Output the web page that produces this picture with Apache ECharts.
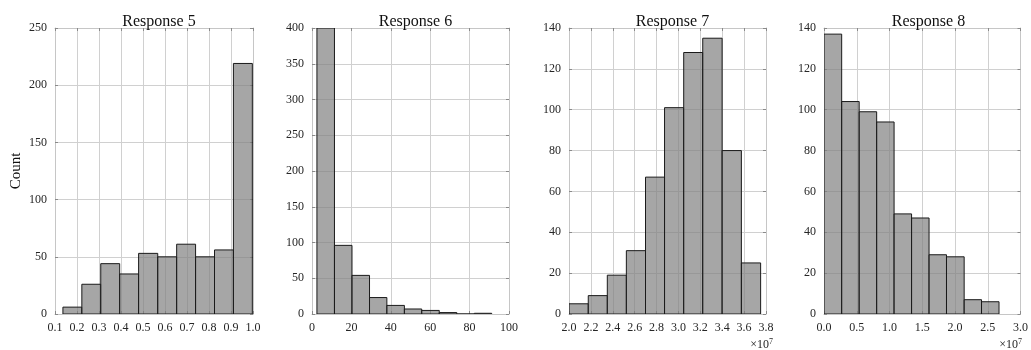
<!DOCTYPE html>
<html>
<head>
<meta charset="utf-8">
<script src="https://cdn.jsdelivr.net/npm/echarts@6/dist/echarts.min.js"></script>
<style>
html,body{margin:0;padding:0;background:#fff;}
#chart{width:1031px;height:350px;}
</style>
</head>
<body>
<div id="chart"></div>
<script>
// ---- data ----
const titles = ['Response 5', 'Response 6', 'Response 7', 'Response 8'];

const r5Edges  = [0.136, 0.222, 0.308, 0.394, 0.480, 0.567, 0.653, 0.739, 0.825, 0.911, 0.997];
const r5Counts = [6, 26, 44, 35, 53, 50, 61, 50, 56, 219];

const r6Edges  = [2.5, 11.4, 20.3, 29.2, 38.0, 46.9, 55.7, 64.6, 73.5, 82.4, 91.2];
const r6Counts = [400, 96, 54, 23, 12, 7, 5, 2, 0, 1];

// x values in units of 1e7
const r7Edges  = [2.0, 2.176, 2.350, 2.524, 2.699, 2.873, 3.048, 3.222, 3.399, 3.575, 3.751];
const r7Counts = [5, 9, 19, 31, 67, 101, 128, 135, 80, 25];

const r8Edges  = [0.0, 0.270, 0.537, 0.804, 1.070, 1.337, 1.604, 1.870, 2.140, 2.405, 2.672];
const r8Counts = [137, 104, 99, 94, 49, 47, 29, 28, 7, 6];

const xMin  = [0.1, 0, 2.0, 0];
const xMax  = [1.0, 100, 3.8, 3.0];
const xStep = [0.1, 20, 0.2, 0.5];
const yMax  = [250, 400, 140, 140];
const yStep = [50, 50, 20, 20];
const xDecimals = [1, 0, 1, 1];
const xScaleNote = [null, null, '7', '7'];
const yLabel = 'Count';

const allEdges  = [r5Edges, r6Edges, r7Edges, r8Edges];
const allCounts = [r5Counts, r6Counts, r7Counts, r8Counts];

// ---- layout ----
const gridLeft  = [55, 312, 569, 824];
const gridWidth = [198, 197, 197, 199];
const gridTop = 28, gridHeight = 286;
const noteRight = [0, 0, 258, 9];

const FONT = '"Liberation Serif", "DejaVu Serif", serif';
const TEXT = '#262626';
const GRIDC = '#d0d0d0';
const AXC = '#c6c6c6';
const TICKC = '#8a8a8a';

const grids = [], xAxes = [], yAxes = [], series = [], titleOpts = [], graphics = [];

for (let i = 0; i < 4; i++) {
  grids.push({left: gridLeft[i], top: gridTop, width: gridWidth[i], height: gridHeight, containLabel: false});
  titleOpts.push({
    text: titles[i],
    left: gridLeft[i] + gridWidth[i] / 2,
    top: 9,
    textAlign: 'center',
    textStyle: {fontFamily: FONT, fontSize: 16, fontWeight: 'normal', color: '#111'}
  });
  const dec = xDecimals[i];
  xAxes.push({
    type: 'value', gridIndex: i, position: 'bottom',
    min: xMin[i], max: xMax[i], interval: xStep[i],
    axisLine: {show: true, onZero: false, lineStyle: {color: AXC, width: 1}},
    axisTick: {show: true, inside: true, length: 3, lineStyle: {color: TICKC}},
    axisLabel: {show: true, margin: 8, fontFamily: FONT, fontSize: 12, color: TEXT,
      formatter: v => Number(v).toFixed(dec)},
    splitLine: {show: true, lineStyle: {color: GRIDC, width: 1}}
  });
  xAxes.push({
    type: 'value', gridIndex: i, position: 'top',
    min: xMin[i], max: xMax[i], interval: xStep[i],
    axisLine: {show: true, onZero: false, lineStyle: {color: AXC, width: 1}},
    axisTick: {show: true, inside: true, length: 3, lineStyle: {color: TICKC}},
    axisLabel: {show: false}, splitLine: {show: false}
  });
  yAxes.push({
    type: 'value', gridIndex: i, position: 'left',
    min: 0, max: yMax[i], interval: yStep[i],
    name: i === 0 ? yLabel : '',
    nameLocation: 'middle', nameGap: 31, nameRotate: 90,
    nameTextStyle: {fontFamily: FONT, fontSize: 15, color: '#111'},
    axisLine: {show: true, onZero: false, lineStyle: {color: AXC, width: 1}},
    axisTick: {show: true, inside: true, length: 3, lineStyle: {color: TICKC}},
    axisLabel: {show: true, margin: 8, fontFamily: FONT, fontSize: 12, color: TEXT},
    splitLine: {show: true, lineStyle: {color: GRIDC, width: 1}}
  });
  yAxes.push({
    type: 'value', gridIndex: i, position: 'right',
    min: 0, max: yMax[i], interval: yStep[i],
    axisLine: {show: true, onZero: false, lineStyle: {color: AXC, width: 1}},
    axisTick: {show: true, inside: true, length: 3, lineStyle: {color: TICKC}},
    axisLabel: {show: false}, splitLine: {show: false}
  });

  const edges = allEdges[i], counts = allCounts[i];
  const data = counts.map((c, k) => [edges[k], edges[k + 1], c]);
  series.push({
    type: 'custom',
    xAxisIndex: 2 * i, yAxisIndex: 2 * i,
    clip: true,
    data: data,
    encode: {x: [0, 1], y: 2},
    renderItem: function (params, api) {
      const p0 = api.coord([api.value(0), api.value(2)]);
      const p1 = api.coord([api.value(1), 0]);
      return {
        type: 'rect',
        shape: {x: p0[0], y: p0[1], width: p1[0] - p0[0], height: p1[1] - p0[1]},
        style: {fill: 'rgba(128,128,128,0.7)', stroke: '#1a1a1a', lineWidth: 1}
      };
    },
    silent: true, animation: false
  });

  if (xScaleNote[i]) {
    graphics.push({
      type: 'text',
      right: noteRight[i],
      top: 338,
      style: {
        text: '×10{sup|' + xScaleNote[i] + '}',
        rich: {sup: {fontFamily: FONT, fontSize: 8, verticalAlign: 'top', padding: [0, 0, 6, 0], fill: TEXT}},
        fontFamily: FONT, fontSize: 12, fill: TEXT
      }
    });
  }
}

const chart = echarts.init(document.getElementById('chart'), null, {renderer: 'canvas'});
chart.setOption({
  animation: false,
  backgroundColor: '#fff',
  title: titleOpts,
  grid: grids,
  xAxis: xAxes,
  yAxis: yAxes,
  series: series,
  graphic: graphics
});
</script>
</body>
</html>
